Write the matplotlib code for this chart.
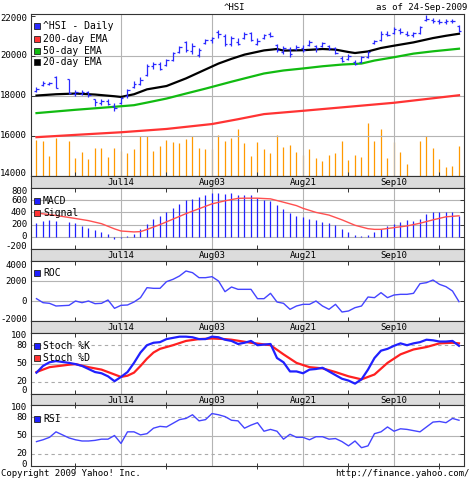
import numpy as np
import pandas as pd
import matplotlib
matplotlib.use("Agg")
import matplotlib.pyplot as plt
from matplotlib.patches import Rectangle
from matplotlib.transforms import blended_transform_factory, ScaledTranslation

# ---------------- data ----------------
first_day, last_day = "2009-06-25", "2009-09-24"
holidays = ["2009-07-01"]

price_open = [18250, 18550, 18600, 18950, 18850, 18100, 18100, 18200, 17850, 17650,
              17750, 17500, 17650, 18000, 18450, 18600, 19050, 19500, 19600, 19550,
              19800, 20200, 20700, 20250, 20050, 20650, 20800, 21200, 21000, 20600,
              20700, 20900, 21150, 20600, 20900, 21100, 20550, 20200, 20350, 20350,
              20400, 20550, 20500, 20500, 20500, 20400, 19900, 19850, 19700, 19700,
              19950, 20650, 20800, 21100, 21150, 21300, 21100, 21050, 21150, 21800,
              21800, 21750, 21700, 21750, 21500]
price_high = [18450, 18750, 18700, 19000, 18850, 18300, 18300, 18250, 17850, 17850,
              17850, 17650, 17950, 18350, 18750, 18950, 19600, 19700, 19700, 19850,
              20200, 20500, 20750, 20650, 20400, 20850, 20950, 21300, 21100, 21000,
              20900, 21200, 21200, 20900, 21100, 21200, 20600, 20500, 20450, 20550,
              20550, 20800, 20550, 20700, 20550, 20450, 20000, 20100, 19800, 20000,
              20250, 20800, 21250, 21250, 21450, 21400, 21250, 21200, 21500, 22050,
              21900, 21850, 21850, 21850, 21550]
price_low = [18200, 18500, 18550, 18400, 18100, 18000, 18050, 17950, 17500, 17550,
             17550, 17250, 17600, 17900, 18400, 18550, 19000, 19350, 19300, 19500,
             19750, 20150, 20200, 20100, 19950, 20600, 20650, 20900, 20500, 20500,
             20550, 20850, 20750, 20550, 20850, 20950, 20200, 20100, 19950, 20300,
             20200, 20500, 20200, 20450, 20300, 20100, 19700, 19800, 19550, 19650,
             19900, 20600, 20750, 21000, 21100, 21100, 21000, 20950, 21100, 21750,
             21650, 21600, 21600, 21650, 21200]
price_close = [18350, 18650, 18650, 18400, 18150, 18200, 18200, 18050, 17700, 17750,
               17600, 17400, 17900, 18300, 18600, 18800, 19500, 19600, 19350, 19800,
               20150, 20450, 20300, 20500, 20300, 20800, 20900, 21100, 20600, 20900,
               20600, 21100, 20800, 20750, 21050, 21000, 20300, 20400, 20100, 20450,
               20300, 20700, 20400, 20650, 20400, 20150, 19750, 20000, 19600, 19950,
               20200, 20750, 21100, 21050, 21350, 21200, 21050, 21150, 21450, 21850,
               21750, 21700, 21750, 21750, 21250]
volume = [3600, 3500, 2000, 3800, 3500, 1800, 2400, 1700, 2800, 2800,
          1900, 2800, 2500, 2300, 2700, 4000, 4000, 2500, 3000, 3600,
          3400, 3300, 3700, 4000, 2800, 2700, 2700, 4100, 3500, 3800,
          4700, 3300, 2000, 3400, 2700, 2300, 4100, 2900, 3100, 2400,
          2100, 2700, 1800, 1500, 2100, 2300, 3500, 1600, 2100, 1900,
          5300, 3500, 4700, 1800, 3400, 2400, 1200, np.nan, 3500, 4000,
          2800, 1700, 900, 1000, 3000]
macd = [233, 261, 278, 261, 244, 233, 178, 150, 106, 78,
        39, -33, -17, 11, 50, 122, 217, 289, 344, 411,
        472, 539, 606, 622, 650, 678, 717, 717, 706, 717,
        678, 678, 689, 633, 611, 594, 522, 456, 383, 344,
        328, 300, 278, 244, 233, 189, 133, 78, 22, 11,
        22, 78, 133, 178, 206, 250, 278, 261, 300, 372,
        400, 400, 400, 400, 344]
roc = [233, -167, -233, -500, -433, 0, -167, 0, -267, -233,
       100, -733, -433, -400, -100, 333, 1333, 1267, 1267, 1933,
       2167, 2500, 3000, 2833, 2333, 2333, 2433, 2000, 933, 1400,
       1167, 1167, 1167, 233, 233, 767, -100, -233, -833, -500,
       -333, -333, 0, -500, -833, -333, -1100, -1000, -667, -500,
       400, 333, 833, 333, 600, 667, 667, 767, 1733, 1833,
       2100, 1667, 1433, 1000, -67]
stoch_k = [35, 46, 52, 54, 51, 49, 46, 41, 36, 34,
           29, 21, 28, 36, 51, 68, 80, 84, 85, 90,
           92, 94, 94, 93, 90, 90, 94, 93, 89, 87,
           82, 84, 87, 80, 81, 82, 59, 52, 37, 37,
           34, 40, 41, 43, 37, 31, 25, 22, 17, 24,
           40, 59, 71, 74, 79, 83, 80, 83, 85, 89,
           88, 86, 86, 87, 79]
rsi = [40, 43, 47, 56, 46, 43, 41, 41, 42, 44,
       44, 50, 37, 56, 56, 51, 53, 62, 65, 64,
       70, 76, 78, 84, 74, 76, 86, 84, 81, 75,
       74, 62, 67, 71, 57, 60, 57, 44, 52, 47,
       47, 43, 48, 48, 44, 45, 40, 33, 41, 30,
       33, 53, 56, 64, 57, 61, 60, 58, 56, 64,
       72, 73, 71, 78, 75]

ema20_dates = ["06-25", "06-30", "07-03", "07-08", "07-13", "07-14", "07-16", "07-20",
               "07-23", "07-28", "07-31", "08-04", "08-06", "08-10", "08-13", "08-17",
               "08-18", "08-21", "08-26", "08-28", "09-01", "09-02", "09-04", "09-08",
               "09-10", "09-15", "09-18", "09-22", "09-24"]
ema20 = [18010, 18075, 18110, 18060, 17975, 17940, 18075, 18320,
         18485, 18865, 19310, 19605, 19840, 20050, 20260, 20330,
         20250, 20270, 20330, 20300, 20180, 20130, 20210, 20380,
         20495, 20660, 20875, 20990, 21090]
ema50_dates = ["06-25", "07-03", "07-13", "07-16", "07-20", "07-23", "07-28", "07-31",
               "08-06", "08-10", "08-13", "08-18", "08-21", "08-26", "08-31", "09-03",
               "09-07", "09-10", "09-15", "09-18", "09-24"]
ema50 = [17135, 17300, 17450, 17530, 17660, 17860, 18110, 18355,
         18700, 18865, 19110, 19260, 19360, 19470, 19555, 19605,
         19755, 19920, 20100, 20215, 20345]
ema200_dates = ["06-25", "07-03", "07-14", "07-23", "08-03", "08-07", "08-13", "08-21",
                "09-01", "09-10", "09-24"]
ema200 = [15935, 16050, 16180, 16345, 16590, 16830, 17085, 17250,
          17450, 17650, 18025]
signal_dates = ["06-25", "06-30", "07-03", "07-07", "07-09", "07-13", "07-14", "07-16",
                "07-17", "07-20", "07-22", "07-24", "07-28", "07-30", "08-03", "08-05",
                "08-07", "08-10", "08-12", "08-14", "08-18", "08-20", "08-21", "08-25",
                "08-27", "08-31", "09-02", "09-04", "09-07", "09-08", "09-10", "09-14",
                "09-16", "09-18", "09-22", "09-24"]
signal = [390, 350, 300, 265, 215, 130, 95, 80,
          85, 120, 200, 290, 380, 460, 540, 590,
          630, 633, 633, 622, 567, 511, 467, 400,
          356, 278, 189, 133, 122, 122, 150, 178,
          222, 278, 328, 344]
stoch_d_dates = ["06-25", "06-29", "07-02", "07-03", "07-07", "07-09", "07-13", "07-14",
                 "07-15", "07-16", "07-17", "07-20", "07-21", "07-22", "07-24", "07-28",
                 "07-30", "08-03", "08-05", "08-06", "08-11", "08-14", "08-18", "08-20",
                 "08-24", "08-26", "08-28", "09-01", "09-03", "09-04", "09-07", "09-09",
                 "09-11", "09-15", "09-17", "09-21", "09-23", "09-24"]
stoch_d = [36, 44, 48, 49, 44, 40, 32, 28,
           30, 35, 46, 58, 68, 74, 80, 87,
           90, 91, 90, 89, 84, 80, 65, 51,
           44, 42, 36, 29, 24, 28, 32, 51,
           65, 73, 77, 83, 84, 83]

major_dates = ["2009-07-14", "2009-08-03", "2009-08-21", "2009-09-10"]
major_labels = ["Jul14", "Aug03", "Aug21", "Sep10"]
minor_dates = ["2009-07-03", "2009-07-23", "2009-08-12", "2009-09-01", "2009-09-21"]

price_ticks = [14000, 16000, 18000, 20000, 22000]
macd_ticks = [-200, 0, 200, 400, 600, 800]
roc_ticks = [-2000, 0, 2000, 4000]
osc_ticks = [0, 20, 50, 80, 100]

# ---------------- helpers ----------------
weekdays = pd.bdate_range(first_day, last_day)
trade_days = [d for d in weekdays if d.strftime("%Y-%m-%d") not in holidays]
xs = np.array([weekdays.get_loc(d) for d in trade_days])


def xpos(md_list):
    return np.array([weekdays.get_loc(pd.Timestamp("2009-" + s)) for s in md_list])


def dpos(full_list):
    return np.array([weekdays.get_loc(pd.Timestamp(s)) for s in full_list])


W_PX, H_PX = 470, 480
FONT = "DejaVu Sans Mono"
FS = 6.5
plt.rcParams["font.family"] = [FONT, "DejaVu Sans"]

fig = plt.figure(figsize=(W_PX / 100, H_PX / 100), dpi=100)
LEFT_PX, RIGHT_PX = 31, 464


def rect(top, bottom):
    return [LEFT_PX / W_PX, 1 - bottom / H_PX, (RIGHT_PX - LEFT_PX) / W_PX, (bottom - top) / H_PX]


X0 = -0.846
X1 = 65.77
GRID = "#b4b4b4"
FRAME = "#333333"
maj = dpos(major_dates)
mnr = dpos(minor_dates)


def style_panel(ax, yticks, ylim, dashed=(), solid=None, top_ticks=True, bottom_out=False,
                top_off=3.0, bot_off=3.0):
    ax.set_xlim(X0, X1)
    ax.set_ylim(*ylim)
    for s in ax.spines.values():
        s.set_color(FRAME)
        s.set_linewidth(0.8)
    ax.set_xticks(mnr)
    ax.tick_params(axis="x", which="both", direction="in", length=3, top=top_ticks,
                   bottom=True, labelbottom=False, color=FRAME, width=0.7)
    if bottom_out:
        ax.tick_params(axis="x", which="both", direction="inout", length=5)
    ax.set_yticks(yticks)
    ax.tick_params(axis="y", direction="in", length=3, left=False, right=True,
                   labelleft=False, color=FRAME, width=0.7)
    tr = blended_transform_factory(ax.transAxes, ax.transData)
    for i, v in enumerate(yticks):
        dy = 0.0
        if i == 0:
            dy = bot_off
        elif i == len(yticks) - 1:
            dy = -top_off
        ax.text(0, v, str(v), ha="right", va="center", fontsize=FS, fontfamily=FONT,
                transform=tr + ScaledTranslation(-4 / 100, dy / 100, fig.dpi_scale_trans))
    for m in maj:
        ax.axvline(m, color=GRID, lw=0.8, zorder=0.5)
    hl = solid if solid is not None else yticks[1:-1]
    for v in hl:
        ax.axhline(v, color=GRID, lw=0.8, zorder=0.5)
    for v in dashed:
        ax.axhline(v, color="#aaaaaa", lw=0.8, ls=(0, (3, 3)), zorder=0.5)


def band(top, bottom):
    b = fig.add_axes(rect(top, bottom))
    b.set_xlim(X0, X1)
    b.set_ylim(0, 1)
    b.set_facecolor("#dcdcdc")
    for s in b.spines.values():
        s.set_color(FRAME)
        s.set_linewidth(0.8)
    b.set_xticks([])
    b.set_yticks([])
    for m, lab in zip(maj, major_labels):
        b.text(m, 0.45, lab, ha="center", va="center", fontsize=FS, fontfamily=FONT)
    return b


def legend_item(x_px, y_px, color, label):
    sq = 6
    fig.add_artist(Rectangle((x_px / W_PX, 1 - (y_px + sq / 2) / H_PX), sq / W_PX, sq / H_PX,
                             transform=fig.transFigure, facecolor=color,
                             edgecolor="#222222", lw=0.6))
    fig.text((x_px + 9) / W_PX, 1 - y_px / H_PX, label, ha="left", va="center",
             fontsize=FS + 0.5, fontfamily=FONT)


# ---------------- main price panel ----------------
ax = fig.add_axes(rect(14, 176))
style_panel(ax, price_ticks, (14073, 22075), solid=price_ticks[1:-1], top_ticks=False,
            top_off=2.5, bot_off=3.0)
axv = ax.twinx()
axv.set_ylim(0, 16200)
axv.set_yticks([])
axv.vlines(xs, 0, volume, color="#ff9900", lw=0.9)
axv.set_zorder(ax.get_zorder() - 1)
ax.patch.set_visible(False)
for s in axv.spines.values():
    s.set_visible(False)

ax.plot(xpos(ema200_dates), ema200, color="#ff3333", lw=1.6, zorder=3)
ax.plot(xpos(ema50_dates), ema50, color="#11bb11", lw=1.6, zorder=3)
ax.plot(xpos(ema20_dates), ema20, color="#000000", lw=1.6, zorder=3)
blue = "#2a2aff"
ax.vlines(xs, price_low, price_high, color=blue, lw=0.9, zorder=4)
ax.hlines(price_open, xs - 0.33, xs, color=blue, lw=0.9, zorder=4)
ax.hlines(price_close, xs, xs + 0.33, color=blue, lw=0.9, zorder=4)

legend_item(34, 26, "#2a2aff", "^HSI - Daily")
legend_item(34, 38.5, "#ff3333", "200-day EMA")
legend_item(34, 50.5, "#11bb11", "50-day EMA")
legend_item(34, 62, "#000000", "20-day EMA")

band(176, 188)

# ---------------- MACD ----------------
am = fig.add_axes(rect(188, 249))
style_panel(am, macd_ticks, (-200, 800), top_off=3.4, bot_off=2.6)
am.vlines(xs, 0, macd, color="#2020ff", lw=0.9, zorder=2)
am.plot(xpos(signal_dates), signal, color="#ff5050", lw=1.0, zorder=3)
legend_item(34, 201, "#2020ff", "MACD")
legend_item(34, 213, "#ff3333", "Signal")

band(249, 261)

# ---------------- ROC ----------------
ar = fig.add_axes(rect(261, 321))
style_panel(ar, roc_ticks, (-2000, 4000), top_off=5.0, bot_off=1.0)
ar.plot(xs, roc, color="#4444ff", lw=1.0, zorder=3)
legend_item(34, 273, "#2020ff", "ROC")

band(321, 333)

# ---------------- Stochastic ----------------
ast = fig.add_axes(rect(333, 394))
style_panel(ast, osc_ticks, (0, 100), dashed=(20, 80), solid=[50], top_off=2.7, bot_off=3.4)
ast.plot(xpos(stoch_d_dates), stoch_d, color="#ff2020", lw=1.6, zorder=3)
ast.plot(xs, stoch_k, color="#2020ff", lw=1.6, zorder=4)
legend_item(34, 346, "#2020ff", "Stoch %K")
legend_item(34, 358, "#ff3333", "Stoch %D")

band(394, 405)

# ---------------- RSI ----------------
ai = fig.add_axes(rect(405, 466))
style_panel(ai, osc_ticks, (0, 100), dashed=(20, 80), solid=[50], bottom_out=True,
            top_off=2.7, bot_off=1.2)
ai.plot(xs, rsi, color="#4444ff", lw=1.0, zorder=3)
legend_item(34, 419, "#2020ff", "RSI")

# ---------------- texts ----------------
fig.text(234 / W_PX, 1 - 7 / H_PX, "^HSI", ha="center", va="center", fontsize=FS, fontfamily=FONT)
fig.text(467 / W_PX, 1 - 7 / H_PX, "as of 24-Sep-2009", ha="right", va="center",
         fontsize=FS, fontfamily=FONT)
fig.text(1 / W_PX, 1 - 474 / H_PX, "Copyright 2009 Yahoo! Inc.", ha="left", va="center",
         fontsize=FS, fontfamily=FONT)
fig.text(469 / W_PX, 1 - 474 / H_PX, "http://finance.yahoo.com/", ha="right", va="center",
         fontsize=FS, fontfamily=FONT)

fig.savefig("out.png", dpi=100)
